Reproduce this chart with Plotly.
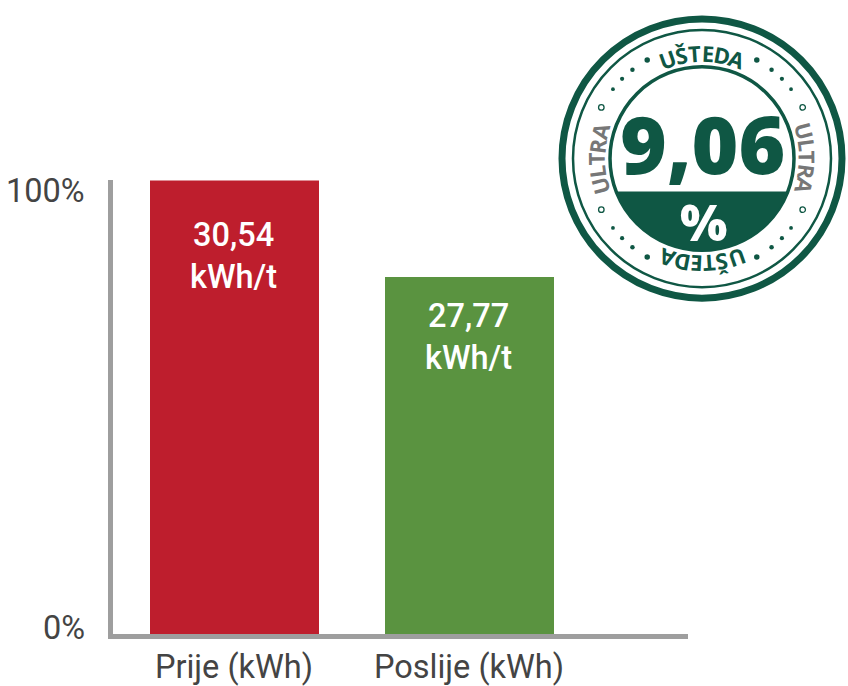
import math
import plotly.graph_objects as go

W, H = 848, 686

# ---- data ----
categories = ["Prije (kWh)", "Poslije (kWh)"]
bar_values = [100, 78.6]            # bar heights in % of the axis
bar_labels = ["30,54<br>kWh/t", "27,77<br>kWh/t"]
bar_colors = ["#BE1E2D", "#5A9340"]
ytick_vals = [0, 100]
ytick_text = ["0%", "100%"]
saving_value = "9,06"
saving_unit = "%"
badge_top_text = "UŠTEDA"
badge_side_text = "ULTRA"

BADGE = "#0F5744"
GRAY_TXT = "#444444"
AXIS = "#9E9E9E"
FONT = "Roboto"
BFONT = "Open Sans"


def px(x):
    return x / W


def py(y):
    return 1 - y / H


fig = go.Figure()
fig.add_trace(go.Bar(
    x=categories, y=bar_values, marker=dict(color=bar_colors, line=dict(width=0)),
    width=0.723, hoverinfo="skip", showlegend=False,
))

annotations = []
for c, v, t in zip(categories, bar_values, bar_labels):
    annotations.append(dict(
        x=c, y=v * 0.833, xref="x", yref="y", text=t, showarrow=False,
        xanchor="center", yanchor="middle",
        font=dict(family=FONT, size=32.5, color="white", weight=500),
    ))
for v, t in zip(ytick_vals, ytick_text):
    annotations.append(dict(
        x=px(87), y=v, xref="paper", yref="y", text=t, showarrow=False,
        xanchor="right", yanchor="middle", yshift=(6 if v == 0 else -11),
        font=dict(family=FONT, size=32.5, color=GRAY_TXT),
    ))

shapes = []
# ---- badge ----
cx, cy = 702, 159


def circle(r, width, color, fill=None):
    d = dict(type="circle", xref="paper", yref="paper",
             x0=px(cx - r), x1=px(cx + r), y0=py(cy + r), y1=py(cy - r),
             line=dict(color=color, width=width), layer="above")
    if fill:
        d["fillcolor"] = fill
    return d


shapes.append(circle(140, 7, BADGE))
shapes.append(circle(129, 2.5, BADGE))
shapes.append(circle(92, 3.5, BADGE))

# lower filled segment of the inner circle
r_in = 92
chord_y = 192
dy = chord_y - cy
a0 = math.asin(dy / r_in)
pts = []
n = 60
for i in range(n + 1):
    a = a0 + (math.pi - 2 * a0) * i / n
    pts.append((cx + r_in * math.cos(a), cy + r_in * math.sin(a)))
path = "M " + " L ".join(f"{px(x):.5f},{py(y):.5f}" for x, y in pts) + " Z"
shapes.append(dict(type="path", xref="paper", yref="paper", path=path,
                   fillcolor=BADGE, line=dict(width=0), layer="above"))

# dots
r_dot = 113
dot_angles = [29, 38, 45, 52]
dot_sizes = [5.5, 4.5, 4.2, 3.8]
for base, sign in [(0, 1), (180, -1), (180, 1), (360, -1)]:
    for a, s in zip(dot_angles, dot_sizes):
        ang = math.radians(base + sign * a)
        x = cx + r_dot * math.sin(ang)
        y = cy - r_dot * math.cos(ang)
        shapes.append(dict(type="circle", xref="paper", yref="paper",
                           x0=px(x - s / 2), x1=px(x + s / 2), y0=py(y + s / 2), y1=py(y - s / 2),
                           fillcolor=BADGE, line=dict(width=0), layer="above"))
    ang = math.radians(base + sign * 63)
    x = cx + r_dot * math.sin(ang)
    y = cy - r_dot * math.cos(ang)
    s = 5.5
    shapes.append(dict(type="circle", xref="paper", yref="paper",
                       x0=px(x - s / 2), x1=px(x + s / 2), y0=py(y + s / 2), y1=py(y - s / 2),
                       line=dict(color=BADGE, width=1.3), layer="above"))

# curved text
widths = {"U": 0.70, "Š": 0.56, "T": 0.56, "E": 0.52, "D": 0.70, "A": 0.66,
          "L": 0.50, "R": 0.62}
fs = 22
r_txt = 106


def arc_text(text, center_deg, color):
    ws = [widths.get(ch, 0.6) * fs + 1.0 for ch in text]
    total = sum(ws)
    pos = -total / 2
    for ch, w in zip(text, ws):
        mid = pos + w / 2
        pos += w
        deg = center_deg + math.degrees(mid / r_txt)
        ang = math.radians(deg)
        x = cx + r_txt * math.sin(ang)
        y = cy - r_txt * math.cos(ang)
        annotations.append(dict(
            x=px(x), y=py(y), xref="paper", yref="paper", text=ch, showarrow=False,
            xanchor="center", yanchor="middle", textangle=deg,
            font=dict(family=BFONT, size=fs, color=color, weight=700),
        ))


arc_text(badge_top_text, 0, BADGE)
arc_text(badge_side_text, 90, "#777777")
arc_text(badge_top_text, 180, BADGE)
arc_text(badge_side_text, 270, "#777777")

annotations.append(dict(
    x=px(cx), y=py(143), xref="paper", yref="paper", text=saving_value, showarrow=False,
    xanchor="center", yanchor="middle",
    font=dict(family=BFONT, size=80, color=BADGE, weight=800),
))
annotations.append(dict(
    x=px(cx + 1), y=py(223), xref="paper", yref="paper", text=saving_unit, showarrow=False,
    xanchor="center", yanchor="middle",
    font=dict(family=BFONT, size=50, color="white", weight=800),
))

fig.update_layout(
    width=W, height=H,
    margin=dict(l=0, r=0, t=0, b=0),
    paper_bgcolor="white", plot_bgcolor="white",
    showlegend=False,
    xaxis=dict(domain=[px(112.5), px(688)], range=[-0.517, 1.932],
               showline=True, linewidth=5, linecolor=AXIS, showgrid=False,
               zeroline=False, ticks="", tickfont=dict(family=FONT, size=32.5, color=GRAY_TXT),
               fixedrange=True),
    yaxis=dict(domain=[py(636), py(181)], range=[0, 100],
               showline=True, linewidth=5, linecolor=AXIS, showgrid=False,
               zeroline=False, showticklabels=False, ticks="", fixedrange=True),
    annotations=annotations,
    shapes=shapes,
    bargap=0,
)

fig.write_html("out.html", config={"displayModeBar": False},
               post_script="document.body.style.margin='0';document.body.style.overflow='hidden';")
